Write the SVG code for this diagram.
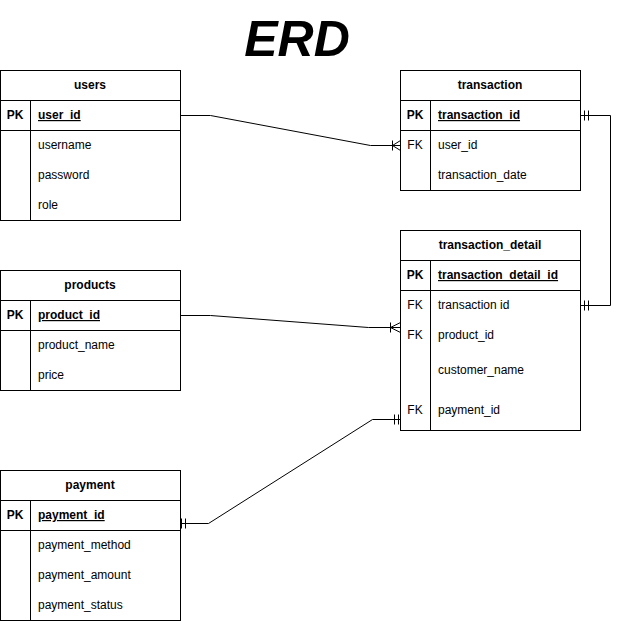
<svg xmlns="http://www.w3.org/2000/svg" width="620" height="621" viewBox="0 0 620 621">
<style>
.box{fill:#fff;stroke:#000;stroke-width:1}
.ln{stroke:#000;stroke-width:1;fill:none}
text{font-family:"Liberation Sans",Arial,sans-serif;font-size:12px;fill:#000}
.h{font-weight:bold;text-anchor:middle}
.k{font-weight:bold;text-anchor:middle}
.fk{text-anchor:middle}
.pk{font-weight:bold;text-decoration:underline}
.title{font-size:50px;font-weight:bold;font-style:italic;text-anchor:middle}
</style>
<rect width="620" height="621" fill="#fff"/>
<text class="title" x="297" y="56">ERD</text>

<g id="users">
<rect class="box" x="0.5" y="70.5" width="180" height="150"/>
<path class="ln" d="M0.5 100.5H180.5M0.5 130.5H180.5M30.5 100.5V220.5"/>
<text class="h" x="90" y="89">users</text>
<text class="k" x="15" y="119">PK</text>
<text class="pk" x="38" y="119">user_id</text>
<text x="38" y="149">username</text>
<text x="38" y="179">password</text>
<text x="38" y="209">role</text>
</g>

<g id="transaction">
<rect class="box" x="400.5" y="70.5" width="180" height="120"/>
<path class="ln" d="M400.5 100.5H580.5M400.5 130.5H580.5M430.5 100.5V190.5"/>
<text class="h" x="490" y="89">transaction</text>
<text class="k" x="415" y="119">PK</text>
<text class="pk" x="438" y="119">transaction_id</text>
<text class="fk" x="415" y="149">FK</text>
<text x="438" y="149">user_id</text>
<text x="438" y="179">transaction_date</text>
</g>

<g id="transaction_detail">
<rect class="box" x="400.5" y="230.5" width="180" height="200"/>
<path class="ln" d="M400.5 260.5H580.5M400.5 290.5H580.5M430.5 260.5V430.5"/>
<text class="h" x="490" y="249">transaction_detail</text>
<text class="k" x="415" y="279">PK</text>
<text class="pk" x="438" y="279">transaction_detail_id</text>
<text class="fk" x="415" y="309">FK</text>
<text x="438" y="309">transaction id</text>
<text class="fk" x="415" y="339">FK</text>
<text x="438" y="339">product_id</text>
<text x="438" y="374">customer_name</text>
<text class="fk" x="415" y="414">FK</text>
<text x="438" y="414">payment_id</text>
</g>

<g id="products">
<rect class="box" x="0.5" y="270.5" width="180" height="120"/>
<path class="ln" d="M0.5 300.5H180.5M0.5 330.5H180.5M30.5 300.5V390.5"/>
<text class="h" x="90" y="289">products</text>
<text class="k" x="15" y="319">PK</text>
<text class="pk" x="38" y="319">product_id</text>
<text x="38" y="349">product_name</text>
<text x="38" y="379">price</text>
</g>

<g id="payment">
<rect class="box" x="0.5" y="470.5" width="180" height="150"/>
<path class="ln" d="M0.5 500.5H180.5M0.5 530.5H180.5M30.5 500.5V620.5"/>
<text class="h" x="90" y="489">payment</text>
<text class="k" x="15" y="519">PK</text>
<text class="pk" x="38" y="519">payment_id</text>
<text x="38" y="549">payment_method</text>
<text x="38" y="579">payment_amount</text>
<text x="38" y="609">payment_status</text>
</g>

<g id="connectors">
<path class="ln" d="M180.5 115.5H210.5L370.5 145.5H400.5"/>
<path class="ln" d="M392.5 140.5V150.5M392.5 145.5L400.5 140.5M392.5 145.5L400.5 150.5"/>

<path class="ln" d="M580.5 115.5H610.5V305.5H580.5"/>
<path class="ln" d="M584.5 110.5V120.5M588.5 110.5V120.5M584.5 300.5V310.5M588.5 300.5V310.5"/>

<path class="ln" d="M180.5 315.5H210.5L368.5 327.5H400.5"/>
<path class="ln" d="M390.5 322.5V332.5M390.5 327.5L400.5 322.5M390.5 327.5L400.5 332.5"/>

<path class="ln" d="M180.5 523.5H208.5L372.5 419.5H400.5"/>
<path class="ln" d="M181.5 518.5V528.5M185.5 518.5V528.5M394.5 414.5V424.5M398.5 414.5V424.5"/>
</g>
</svg>
